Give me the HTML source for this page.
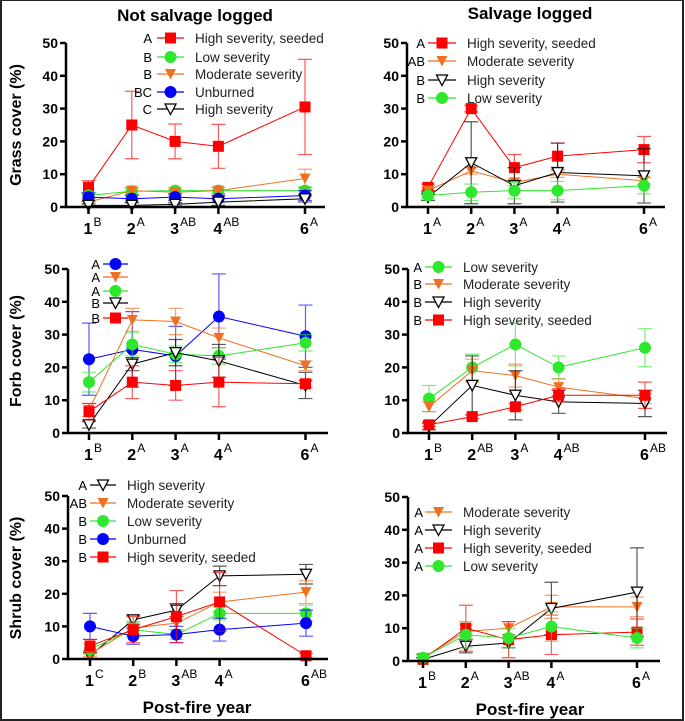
<!DOCTYPE html>
<html><head><meta charset="utf-8">
<style>
html,body{margin:0;padding:0;background:#fff;}
svg{display:block;font-family:"Liberation Sans",Arial,sans-serif;}
</style></head>
<body>
<svg id="c" width="685" height="721" viewBox="0 0 685 721">
<rect x="1" y="0" width="682" height="720" fill="#fff" stroke="#222" stroke-width="2"/>
<text x="195" y="21" text-anchor="middle" font-size="17" font-weight="bold">Not salvage logged</text>
<text x="530" y="19" text-anchor="middle" font-size="17" font-weight="bold">Salvage logged</text>
<text transform="translate(21,125) rotate(-90)" text-anchor="middle" font-size="16" font-weight="bold">Grass cover (%)</text>
<text transform="translate(21,351) rotate(-90)" text-anchor="middle" font-size="16" font-weight="bold">Forb cover (%)</text>
<text transform="translate(21,578) rotate(-90)" text-anchor="middle" font-size="16" font-weight="bold">Shrub cover (%)</text>
<text x="197" y="713" text-anchor="middle" font-size="17" font-weight="bold">Post-fire year</text>
<text x="530" y="715" text-anchor="middle" font-size="17" font-weight="bold">Post-fire year</text>
</svg>
<script>
const years = [1,2,3,4,6];
const yTicks = [0,10,20,30,40,50];
// Panel 1: grass, not salvage
const g1Seeded=[6,25,20,18.5,30.5], g1SeededErr=[2,10.3,5.3,6.7,14.5];
const g1Low=[3.5,4.8,5,5,5], g1LowErr=[1,1,1,1,1.2];
const g1Mod=[1.5,5,4.5,5,8.7], g1ModErr=[1,1,1,1,2.8];
const g1Unb=[3,2.5,3,2.5,3.5], g1UnbErr=[1.3,1,1,1,1.5];
const g1High=[0.5,0.5,0.8,1.5,2.5], g1HighErr=[0.5,0.8,0.5,1,1];
const g1Ticks=["B","A","AB","AB","A"];
// Panel 2: forb, not salvage
const f1Unb=[22.5,25.5,23.5,35.5,29.5], f1UnbErr=[11,11.5,9,13,9.5];
const f1Mod=[7,34.5,34,29,20.5], f1ModErr=[2,3.5,4,3,1.5];
const f1Low=[15.5,27,24,23.5,27.5], f1LowErr=[3,3.5,2.5,2.5,2.5];
const f1High=[2.5,21,24.5,22,14.5], f1HighErr=[1,2,4,5,4];
const f1Seeded=[6.5,15.5,14.5,15.5,15], f1SeededErr=[2.5,5,4.5,7.5,1];
const f1Ticks=["B","A","A","A","A"];
// Panel 3: shrub, not salvage
const s1High=[1,12,15,25.5,26], s1HighErr=[1,1.5,2,3,3];
const s1Mod=[1.5,9.5,11,17.5,20.5], s1ModErr=[0.8,2,2,3,3.5];
const s1Low=[3,9,7.5,14,14], s1LowErr=[1.5,2,1.5,2,2.5];
const s1Unb=[10,7,7.5,9,11], s1UnbErr=[4,2.5,2.5,3.5,4];
const s1Seeded=[4,9,13,17.5,1], s1SeededErr=[2,4,8,9,0.7];
const s1Ticks=["C","B","AB","A","AB"];
// Panel 4: grass, salvage
const g2Seeded=[6,30,12,15.5,17.5], g2SeededErr=[1,1,4,4,4];
const g2Mod=[5,11,7.5,10,8], g2ModErr=[1,1,1,1,1];
const g2High=[3,13.5,6.5,10.5,9.5], g2HighErr=[1,12.5,5.5,9,8.3];
const g2Low=[3.5,4.5,5,5,6.5], g2LowErr=[1,2.5,2.5,2.8,2.5];
const g2Ticks=["A","A","A","A","A"];
// Panel 5: forb, salvage
const f2Low=[10.5,20,27,20,26], f2LowErr=[4,4,6.5,3.5,5.8];
const f2Mod=[8,19,17.5,14,10.5], f2ModErr=[1.5,3.5,3.5,2.5,1.5];
const f2High=[2,14.5,11.5,9.5,9], f2HighErr=[1,9,7.5,3.5,4];
const f2Seeded=[2.5,5,8,11.5,11.5], f2SeededErr=[0.5,0.5,1,2,4];
const f2Ticks=["B","AB","A","AB","AB"];
// Panel 6: shrub, salvage
const s2Mod=[1,9,10,16.5,16.5], s2ModErr=[1,2,2,3.5,3];
const s2High=[0.5,4.5,5.5,16,21], s2HighErr=[0.5,2,1.5,8,13.5];
const s2Seeded=[0.5,10,6.5,8,8.8], s2SeededErr=[0.5,7,5.5,6,4];
const s2Low=[1,8,7,10.5,7], s2LowErr=[1,4,3,4.5,3];
const s2Ticks=["B","A","AB","A","A"];

const NS="http://www.w3.org/2000/svg";
const svg=document.getElementById('c');
const C={red:"#ff0000",green:"#2ee82e",orange:"#f07020",blue:"#0000ff",black:"#000"};
function mk(tag,attrs,parent){const e=document.createElementNS(NS,tag);for(const k in attrs)e.setAttribute(k,attrs[k]);(parent||svg).appendChild(e);return e;}
function marker(g,type,color,x,y){
  let e;
  if(type==='sq'){e=mk('rect',{x:x-5.5,y:y-5.5,width:11,height:11,fill:color},g);}
  else if(type==='ci'){e=mk('circle',{cx:x,cy:y,r:6,fill:color},g);}
  else if(type==='tri'){e=mk('path',{d:`M${x-5.5},${y-5}L${x+5.5},${y-5}L${x},${y+5.5}Z`,fill:color},g);}
  else {e=mk('path',{d:`M${x-5.5},${y-5}L${x+5.5},${y-5}L${x},${y+5.5}Z`,fill:'#fff',stroke:'#000','stroke-width':1.3},g);}
  return e;
}
function panel(p){
  const xs=v=>p.x1+(v-1)*p.dx;
  const ys=v=>p.y0+(p.y50-p.y0)*v/50;
  const g=mk('g',{});
  
  
  p.series.forEach((s,si)=>{
    const sg=mk('g',{},g);
    
    
    const col=C[s.color];
    years.forEach((yr,i)=>{
      const x=xs(yr),hi=ys(s.v[i]+s.e[i]),lo=ys(Math.max(0,s.v[i]-s.e[i]));
      const eb=mk('path',{d:`M${x},${hi}V${lo}M${x-7},${hi}H${x+7}M${x-7},${lo}H${x+7}`,stroke:col,'stroke-width':1.2,'stroke-opacity':0.65,fill:'none'},sg);
      
      
    });
    const ln=mk('polyline',{points:years.map((yr,i)=>xs(yr)+','+ys(s.v[i])).join(' '),stroke:col,'stroke-width':1,fill:'none'},sg);
    
    
    years.forEach((yr,i)=>{
      const m=marker(sg,s.m,col,xs(yr),ys(s.v[i]));
      
      
    });
  });
  const ax=mk('path',{d:`M${p.ax},${p.y50}V${p.y0}H${p.xend}`,stroke:'#000','stroke-width':2.5,fill:'none'},g);
  
  
  yTicks.forEach(t=>{
    mk('path',{d:`M${p.ax-6},${ys(t)}H${p.ax}`,stroke:'#000','stroke-width':2.5},g);
    const tl=mk('text',{x:p.ax-8,y:ys(t)+5,'text-anchor':'end','font-size':14,'font-weight':'bold'},g);
    tl.textContent=t;
    
    
  });
  years.forEach((yr,i)=>{
    const x=xs(yr);
    mk('path',{d:`M${x},${p.y0}V${p.y0+7}`,stroke:'#000','stroke-width':2.5},g);
    const tl=mk('text',{x:x-5,y:p.y0+27,'font-size':16,'font-weight':'bold'},g);
    tl.textContent=yr;
    
    
    const sp=mk('text',{x:x+5,y:p.y0+19,'font-size':12},g);
    sp.textContent=p.ticks[i];
    
    
  });
  p.series.forEach((s,si)=>{
    const y=p.lg.y[si];
    const lg=mk('g',{},g);
    
    
    const col=C[s.color];
    const lt=mk('text',{x:p.lg.lx,y:y+5,'text-anchor':'end','font-size':13},lg);lt.textContent=s.letter;
    mk('path',{d:`M${p.lg.l1},${y}H${p.lg.l2}`,stroke:col,'stroke-width':1.2},lg);
    marker(lg,s.m,col,(p.lg.l1+p.lg.l2)/2,y);
    if(p.lg.tx){const tt=mk('text',{x:p.lg.tx,y:y+5,'font-size':13.5,fill:'#222'},lg);tt.textContent=s.name;}
  });
}
panel({name:'grass-not-salvage',ax:66,x1:88.5,dx:43.3,xend:325,y0:207,y50:43,ticks:g1Ticks,
 lg:{lx:152,l1:157,l2:184,tx:195,y:[38,57,74,92,109]},
 series:[{name:'High severity, seeded',color:'red',m:'sq',v:g1Seeded,e:g1SeededErr,letter:'A'},
 {name:'Low severity',color:'green',m:'ci',v:g1Low,e:g1LowErr,letter:'B'},
 {name:'Moderate severity',color:'orange',m:'tri',v:g1Mod,e:g1ModErr,letter:'B'},
 {name:'Unburned',color:'blue',m:'ci',v:g1Unb,e:g1UnbErr,letter:'BC'},
 {name:'High severity',color:'black',m:'open',v:g1High,e:g1HighErr,letter:'C'}]});
panel({name:'forb-not-salvage',ax:68,x1:89,dx:43.3,xend:328,y0:433,y50:269,ticks:f1Ticks,
 lg:{lx:100,l1:103,l2:128,tx:null,y:[264,277,291,303,318]},
 series:[{name:'Unburned',color:'blue',m:'ci',v:f1Unb,e:f1UnbErr,letter:'A'},
 {name:'Moderate severity',color:'orange',m:'tri',v:f1Mod,e:f1ModErr,letter:'A'},
 {name:'Low severity',color:'green',m:'ci',v:f1Low,e:f1LowErr,letter:'A'},
 {name:'High severity',color:'black',m:'open',v:f1High,e:f1HighErr,letter:'B'},
 {name:'High severity, seeded',color:'red',m:'sq',v:f1Seeded,e:f1SeededErr,letter:'B'}]});
panel({name:'shrub-not-salvage',ax:68,x1:90,dx:43.2,xend:328,y0:659,y50:496,ticks:s1Ticks,
 lg:{lx:87,l1:90,l2:116,tx:127,y:[485,503,521,539,557]},
 series:[{name:'High severity',color:'black',m:'open',v:s1High,e:s1HighErr,letter:'A'},
 {name:'Moderate severity',color:'orange',m:'tri',v:s1Mod,e:s1ModErr,letter:'AB'},
 {name:'Low severity',color:'green',m:'ci',v:s1Low,e:s1LowErr,letter:'B'},
 {name:'Unburned',color:'blue',m:'ci',v:s1Unb,e:s1UnbErr,letter:'B'},
 {name:'High severity, seeded',color:'red',m:'sq',v:s1Seeded,e:s1SeededErr,letter:'B'}]});
panel({name:'grass-salvage',ax:407,x1:428,dx:43.2,xend:665,y0:207,y50:43,ticks:g2Ticks,
 lg:{lx:425,l1:428,l2:456,tx:467,y:[43,61,80,98]},
 series:[{name:'High severity, seeded',color:'red',m:'sq',v:g2Seeded,e:g2SeededErr,letter:'A'},
 {name:'Moderate severity',color:'orange',m:'tri',v:g2Mod,e:g2ModErr,letter:'AB'},
 {name:'High severity',color:'black',m:'open',v:g2High,e:g2HighErr,letter:'B'},
 {name:'Low severity',color:'green',m:'ci',v:g2Low,e:g2LowErr,letter:'B'}]});
panel({name:'forb-salvage',ax:408,x1:429,dx:43.2,xend:667,y0:433,y50:269,ticks:f2Ticks,
 lg:{lx:422,l1:425,l2:452,tx:463,y:[267,284,302,320]},
 series:[{name:'Low severity',color:'green',m:'ci',v:f2Low,e:f2LowErr,letter:'A'},
 {name:'Moderate severity',color:'orange',m:'tri',v:f2Mod,e:f2ModErr,letter:'B'},
 {name:'High severity',color:'black',m:'open',v:f2High,e:f2HighErr,letter:'B'},
 {name:'High severity, seeded',color:'red',m:'sq',v:f2Seeded,e:f2SeededErr,letter:'B'}]});
panel({name:'shrub-salvage',ax:408,x1:423,dx:42.8,xend:660,y0:661,y50:497,ticks:s2Ticks,
 lg:{lx:423,l1:425,l2:452,tx:463,y:[512,530,548,566]},
 series:[{name:'Moderate severity',color:'orange',m:'tri',v:s2Mod,e:s2ModErr,letter:'A'},
 {name:'High severity',color:'black',m:'open',v:s2High,e:s2HighErr,letter:'A'},
 {name:'High severity, seeded',color:'red',m:'sq',v:s2Seeded,e:s2SeededErr,letter:'A'},
 {name:'Low severity',color:'green',m:'ci',v:s2Low,e:s2LowErr,letter:'A'}]});
</script>
</body></html>
